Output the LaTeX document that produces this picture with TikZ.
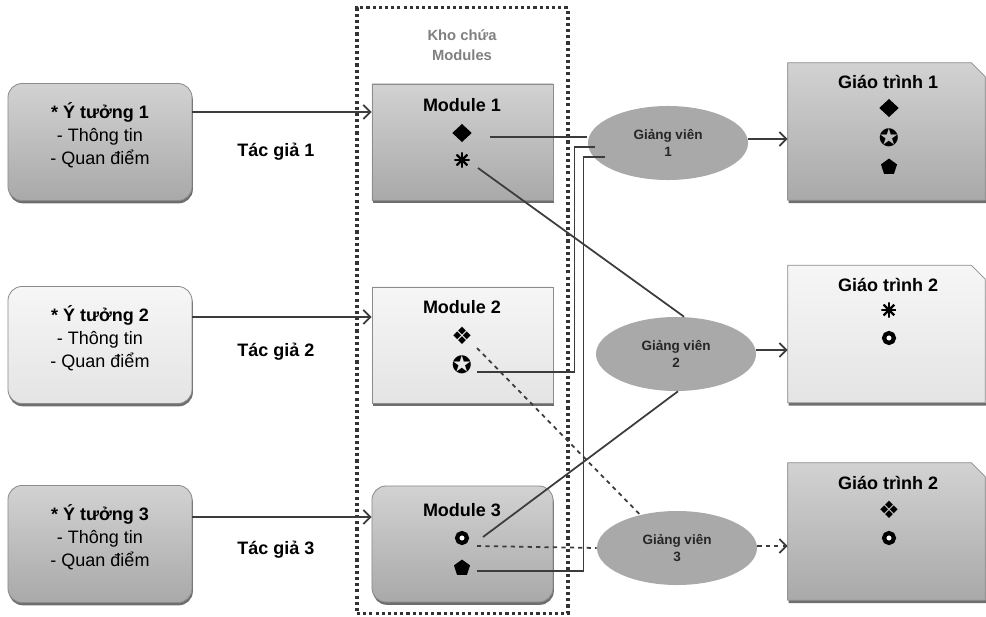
\documentclass[tikz,border=0pt]{standalone}
\usepackage{fontspec}
\setmainfont{Liberation Sans}
\newfontfamily\symfont{DejaVu Sans}
\usetikzlibrary{shapes.geometric,shadows,arrows.meta}

\definecolor{darktop}{HTML}{D2D2D2}
\definecolor{darkbot}{HTML}{A9A9A9}
\definecolor{lighttop}{HTML}{F6F6F6}
\definecolor{lightbot}{HTML}{E4E4E4}
\definecolor{boxline}{HTML}{8C8C8C}
\definecolor{shadowc}{HTML}{6E6E6E}
\definecolor{gvfill}{HTML}{A9A9A9}
\definecolor{conline}{HTML}{3C3C3C}

\newcommand\boxfont{\fontsize{12.8}{16.3}\selectfont}
\newcommand\gvfont{\fontsize{9.6}{12.5}\selectfont\bfseries}

\tikzset{
  box/.style={draw=boxline, line width=0.6pt, inner sep=0pt,
    drop shadow={shadow xshift=0.6pt, shadow yshift=-2pt, fill=shadowc, opacity=1}},
  darkbox/.style={box, top color=darktop, bottom color=darkbot},
  lightbox/.style={box, top color=lighttop, bottom color=lightbot},
  ideabox/.style={rounded corners=10pt, minimum width=4.6cm, minimum height=2.925cm},
  modbox/.style={minimum width=4.525cm, minimum height=2.9cm},
  bookbox/.style={inner sep=0pt, minimum width=4.925cm, minimum height=3.425cm},
  teacher/.style={ellipse, fill=gvfill, inner sep=0pt, minimum width=4cm,
    minimum height=1.85cm, align=center, font=\gvfont, text=black!85},
  txt/.style={align=center, font=\boxfont, inner sep=0pt},
  ttl/.style={font=\boxfont\bfseries, inner sep=0pt},
  symb/.style={font=\symfont\fontsize{17}{17}\selectfont, inner sep=0pt},
  dia/.style={diamond, fill=black, inner sep=0pt, minimum width=14pt, minimum height=13pt},
  ast/.style={circle, inner sep=0pt, minimum size=11pt,
    path picture={\foreach \a in {0,45,90,135}
      \draw[line width=1.6pt] (path picture bounding box.center) ++(\a:5.5pt) -- ++(\a+180:11pt);}},
  ring/.style={circle, draw=black, line width=3pt, fill=white, minimum size=7pt, inner sep=0pt},
  pent/.style={regular polygon, regular polygon sides=5, fill=black, inner sep=0pt, minimum size=12pt},
  con/.style={draw=conline, line width=1.25pt},
  arr/.style={con, -{Straight Barb[length=5pt,width=10pt]}},
  repo/.style={draw=black!80, line width=2.2pt, dash pattern=on 2.2pt off 2.2pt,
    minimum width=5.275cm, minimum height=15.125cm}
}

\begin{document}
\begin{tikzpicture}[x=0.025cm,y=-0.025cm]
\useasboundingbox (0,0) rectangle (986,617);

% kho chua
\node[repo] (repo) at (462.5,310.5) {};
\node[font=\fontsize{10.5}{14}\selectfont\bfseries, text=black!50, align=center, inner sep=0pt] (repot) at (462,45) {Kho chứa\\Modules};

% y tuong
\node[darkbox, ideabox] (idea1) at (100,142) {};
\node[txt] (idea1t) at (100,135) {\textbf{* Ý tưởng 1}\\- Thông tin\\- Quan điểm};
\node[lightbox, ideabox] (idea2) at (100,345) {};
\node[txt] (idea2t) at (100,338) {\textbf{* Ý tưởng 2}\\- Thông tin\\- Quan điểm};
\node[darkbox, ideabox] (idea3) at (100,544) {};
\node[txt] (idea3t) at (100,537) {\textbf{* Ý tưởng 3}\\- Thông tin\\- Quan điểm};

\node[ttl] (tg1) at (276,152) {Tác giả 1};
\node[ttl] (tg2) at (276,352) {Tác giả 2};
\node[ttl] (tg3) at (276,550) {Tác giả 3};

% modules
\node[darkbox, modbox] (mod1) at (462.5,142) {};
\node[ttl] (mod1t) at (462,105) {Module 1};
\node[dia] (m1dia) at (462,133) {};
\node[ast] (m1ast) at (462,160) {};

\node[lightbox, modbox] (mod2) at (462.5,345) {};
\node[ttl] (mod2t) at (462,307) {Module 2};
\node[symb] (m2four) at (462,336) {❖};
\node[symb] (m2star) at (462,365) {✪};

\node[darkbox, modbox, rounded corners=10pt] (mod3) at (462.5,544) {};
\node[ttl] (mod3t) at (462,510) {Module 3};
\node[ring] (m3ring) at (462,538) {};
\node[pent] (m3pent) at (462,568) {};

% giang vien
\node[teacher] (gv1) at (668,143) {Giảng viên\\1};
\node[teacher] (gv2) at (676,354) {Giảng viên\\2};
\node[teacher] (gv3) at (677,548) {Giảng viên\\3};

% giao trinh (goc cat)
\node[bookbox] (gt1) at (886.5,131.5) {};
\node[bookbox] (gt2) at (886.5,334) {};
\node[bookbox] (gt3) at (886.5,531.5) {};
\path[darkbox] (gt1.north west) -- ([xshift=-0.35cm]gt1.north east) -- ([yshift=-0.35cm]gt1.north east) -- (gt1.south east) -- (gt1.south west) -- cycle;
\path[lightbox] (gt2.north west) -- ([xshift=-0.35cm]gt2.north east) -- ([yshift=-0.35cm]gt2.north east) -- (gt2.south east) -- (gt2.south west) -- cycle;
\path[darkbox] (gt3.north west) -- ([xshift=-0.35cm]gt3.north east) -- ([yshift=-0.35cm]gt3.north east) -- (gt3.south east) -- (gt3.south west) -- cycle;

\node[ttl] (gt1t) at (888,82) {Giáo trình 1};
\node[dia] (gt1dia) at (889,108) {};
\node[symb] (gt1star) at (889,138) {✪};
\node[pent] (gt1pent) at (889,167) {};

\node[ttl] (gt2t) at (888,285) {Giáo trình 2};
\node[ast] (gt2ast) at (889,310) {};
\node[ring] (gt2ring) at (889,338) {};

\node[ttl] (gt3t) at (888,483) {Giáo trình 2};
\node[symb] (gt3four) at (889,510) {❖};
\node[ring] (gt3ring) at (889,538) {};

% tac gia -> module
\draw[arr] ([yshift=0.75cm]idea1.east) -- ([yshift=0.75cm]mod1.west);
\draw[arr] ([yshift=0.7cm]idea2.east) -- ([yshift=0.7cm]mod2.west);
\draw[arr] ([yshift=0.675cm]idea3.east) -- ([yshift=0.675cm]mod3.west);

% module -> giang vien
\coordinate (bus1) at ([xshift=0.125cm]repo.east);
\coordinate (bus2) at ([xshift=0.35cm]repo.east);
\coordinate (gv1a) at ([shift={(-1,-6)}]gv1.west);
\coordinate (gv1b) at ([shift={(7,4)}]gv1.west);
\coordinate (gv1c) at ([shift={(17,14)}]gv1.west);
\draw[con] ([shift={(28,4)}]m1dia.center) -- (gv1a);
\draw[con] ([shift={(15,7)}]m2star.center) -| (bus1 |- gv1b) -- (gv1b);
\draw[con] ([shift={(15,3)}]m3pent.center) -| (bus2 |- gv1c) -- (gv1c);
\draw[con] ([shift={(16,8)}]m1ast.center) -- ([xshift=0.2cm]gv2.north);
\draw[con] ([shift={(21,-1)}]m3ring.center) -- ([xshift=0.05cm]gv2.south);
\draw[con, dashed] ([shift={(15,12)}]m2four.center) -- (gv3.138);
\draw[con, dashed] ([shift={(15,8)}]m3ring.center) -- (gv3.west);

% giang vien -> giao trinh
\draw[arr] ([yshift=0.1cm]gv1.east) -- ([yshift=0.1cm]gv1.east -| gt1.west);
\draw[arr] ([yshift=0.1cm]gv2.east) -- ([yshift=0.1cm]gv2.east -| gt2.west);
\draw[arr, dashed] ([yshift=0.05cm]gv3.east) -- ([yshift=0.05cm]gv3.east -| gt3.west);

\end{tikzpicture}
\end{document}
